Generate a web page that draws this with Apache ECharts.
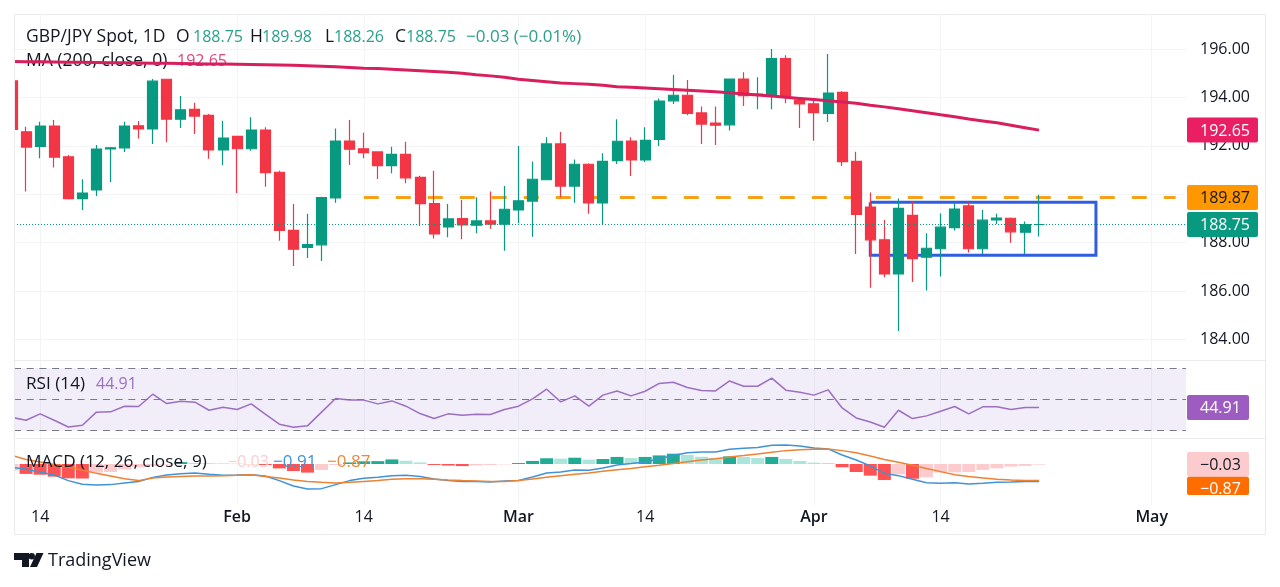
<!DOCTYPE html>
<html>
<head>
<meta charset="utf-8">
<title>GBP/JPY Spot, 1D</title>
<script src="https://cdn.jsdelivr.net/npm/echarts@6/dist/echarts.min.js"></script>
<style>
  html, body { margin: 0; padding: 0; background: #fff; }
  #chart { width: 1280px; height: 587px; }
</style>
</head>
<body>
<div id="chart"></div>
<script>
// daily candles
const opens = [194.68,192.58,191.98,192.82,191.55,189.82,190.18,191.87,191.91,192.83,192.70,194.75,193.10,193.51,193.26,191.83,192.39,191.88,192.65,190.91,188.51,187.81,187.91,189.85,192.20,191.88,191.75,191.18,191.65,190.70,189.61,188.65,188.99,188.72,188.90,188.77,189.35,189.72,190.60,192.08,190.34,191.24,189.64,191.39,192.20,191.42,192.27,193.86,194.09,193.36,192.94,192.87,194.76,194.09,194.06,195.60,193.89,193.73,193.34,194.21,191.36,189.47,188.12,186.71,189.13,187.40,187.75,188.62,189.52,187.75,188.94,189.01,188.43,188.75];
const closes = [192.68,191.95,192.82,191.53,189.82,190.05,191.87,191.92,192.82,192.70,194.67,193.10,193.49,193.23,191.83,192.32,191.88,192.65,190.89,188.51,187.73,187.92,189.86,192.20,191.86,191.72,191.18,191.65,190.68,189.61,188.36,188.98,188.73,188.90,188.77,189.38,189.73,190.62,192.08,190.34,191.24,189.64,191.36,192.19,191.42,192.23,193.85,194.09,193.34,192.90,192.85,194.76,194.07,194.14,195.60,194.03,193.73,193.37,194.18,191.35,189.17,188.12,186.71,189.42,187.34,187.77,188.64,189.39,187.75,188.93,189.02,188.45,188.75,188.75];
const lows = [192.60,190.11,191.49,191.11,189.78,189.35,189.93,190.51,191.75,192.30,192.08,192.15,192.74,192.49,191.47,191.20,190.05,191.80,190.31,188.08,187.04,187.37,187.24,189.65,191.21,191.49,190.63,190.87,190.45,188.69,188.17,188.22,188.14,188.39,188.58,187.67,188.80,188.25,190.58,189.88,189.65,189.19,188.77,191.25,190.75,191.33,191.99,193.73,193.26,192.08,192.04,192.63,193.65,193.51,193.51,193.76,192.74,192.21,192.99,191.17,187.53,186.14,186.57,184.35,186.38,186.02,186.60,188.50,187.59,187.53,188.77,188.00,187.53,188.26];
const highs = [194.70,192.79,193.00,193.07,191.62,190.62,192.04,191.95,193.00,193.03,194.76,194.76,194.06,193.78,193.32,193.04,192.42,193.18,192.77,190.97,189.60,189.19,189.90,192.72,193.07,192.54,191.78,191.96,192.17,190.76,190.97,189.60,189.76,189.88,190.11,190.34,191.99,191.35,192.35,192.57,191.44,191.28,191.69,193.10,192.35,192.77,193.96,194.94,194.72,193.62,193.62,194.78,195.04,194.83,196.00,195.74,193.93,193.95,195.79,194.25,191.76,190.07,188.94,189.83,189.69,188.39,189.21,189.63,189.67,189.35,189.19,189.04,188.87,189.98];
const ma200 = [195.48,195.47,195.47,195.46,195.45,195.45,195.44,195.43,195.43,195.42,195.41,195.41,195.40,195.39,195.38,195.38,195.37,195.36,195.35,195.34,195.33,195.31,195.29,195.27,195.24,195.21,195.19,195.16,195.13,195.10,195.07,195.04,195.00,194.94,194.89,194.83,194.75,194.70,194.65,194.60,194.57,194.54,194.50,194.44,194.42,194.39,194.36,194.33,194.30,194.27,194.23,194.19,194.14,194.10,194.06,194.01,193.96,193.91,193.86,193.81,193.76,193.68,193.61,193.53,193.45,193.37,193.28,193.20,193.11,193.03,192.95,192.85,192.75,192.65];
const rsi = [38.5,36.7,40.8,36.7,32.4,33.5,41.9,42.1,45.7,45.5,53.4,47.4,48.9,48.3,43.1,45.1,43.6,47.2,40.6,34.2,32.2,33.1,41.9,50.6,49.7,49.6,47.2,49.1,45.7,41.0,37.8,40.8,39.9,40.6,40.4,43.6,45.7,50.4,56.6,48.5,52.3,45.7,52.8,55.5,52.3,55.3,60.3,61.1,57.7,55.8,55.5,61.9,58.5,58.5,63.7,56.0,54.7,52.8,56.2,44.6,38.2,35.6,32.2,43.1,37.8,39.5,42.5,45.5,40.8,45.3,45.3,43.6,44.9,44.91];
const macdLine = [-0.17,-0.28,-0.42,-0.58,-0.87,-1.06,-1.10,-1.08,-0.99,-0.92,-0.70,-0.58,-0.51,-0.47,-0.54,-0.59,-0.58,-0.56,-0.63,-0.87,-1.15,-1.31,-1.29,-1.08,-0.87,-0.75,-0.70,-0.61,-0.59,-0.66,-0.79,-0.86,-0.91,-0.92,-0.94,-0.89,-0.86,-0.68,-0.47,-0.42,-0.31,-0.33,-0.21,-0.05,0.02,0.10,0.28,0.44,0.59,0.63,0.63,0.77,0.82,0.86,0.98,0.99,0.94,0.84,0.79,0.47,0.21,-0.10,-0.49,-0.61,-0.80,-0.98,-1.01,-0.98,-1.05,-1.01,-0.96,-0.94,-0.91,-0.91];
const signalLine = [0.45,0.24,0.10,-0.03,-0.17,-0.31,-0.49,-0.63,-0.77,-0.87,-0.73,-0.68,-0.65,-0.63,-0.63,-0.61,-0.59,-0.56,-0.66,-0.73,-0.84,-0.92,-0.96,-0.99,-0.96,-0.91,-0.86,-0.80,-0.77,-0.77,-0.80,-0.84,-0.87,-0.89,-0.91,-0.91,-0.86,-0.79,-0.70,-0.61,-0.54,-0.47,-0.38,-0.30,-0.23,-0.14,-0.07,0.02,0.12,0.21,0.28,0.37,0.44,0.52,0.61,0.70,0.75,0.77,0.79,0.70,0.59,0.42,0.24,0.09,-0.07,-0.24,-0.40,-0.56,-0.66,-0.73,-0.80,-0.84,-0.86,-0.87];
const histogram = [-0.35,-0.52,-0.56,-0.66,-0.75,-0.76,-0.45,-0.42,-0.28,-0.17,-0.10,-0.03,0.10,0.05,0.04,0.03,0.02,-0.01,-0.05,-0.23,-0.37,-0.45,-0.31,-0.05,0.08,0.14,0.15,0.24,0.17,0.08,-0.05,-0.08,-0.11,-0.08,-0.05,-0.02,0.05,0.16,0.30,0.28,0.33,0.23,0.26,0.37,0.31,0.37,0.45,0.54,0.47,0.38,0.31,0.40,0.37,0.31,0.37,0.26,0.16,0.07,0.05,-0.17,-0.42,-0.61,-0.84,-0.54,-0.77,-0.70,-0.45,-0.44,-0.42,-0.31,-0.23,-0.14,-0.10,-0.03];

const priceTicks = [184, 186, 188, 190, 192, 194, 196];
const timeTickBars = [2, 16, 25, 36, 45, 57, 66, 81];
const timeTickLabels = ["14", "Feb", "14", "Mar", "14", "Apr", "14", "May"];
const resistance = 189.87;
const lastPrice = 188.75;
const ma200Last = 192.65;
const rsiLast = 44.91;
const resistanceBars = [25, 82.7];
const boxBars = [61, 77.04];
const boxPrices = [189.67, 187.48];

const FONT = '"Open Sans", sans-serif';
const INK = "#131722";
const GRID_LINE = "#f3f4f6";
const FRAME = "#e9ebee";
const UP = "#089981";
const DOWN = "#f23645";

const bars = opens.map((_, i) => i);
const chart = echarts.init(document.getElementById("chart"));

// histogram shade follows the change from the bar before
function histColor(v, i) {
  const prev = i > 0 ? histogram[i - 1] : v - 1;
  if (v >= 0) return v > prev ? "#22ab94" : "#ace5dc";
  return v < prev ? "#ff5252" : "#fccbcd";
}

function timeAxis(gridIndex, showLabels) {
  return {
    type: "value",
    gridIndex,
    min: 0.142,
    max: 83.44,
    axisLine: { show: false },
    axisTick: { show: false, customValues: timeTickBars },
    splitLine: { show: true, lineStyle: { color: GRID_LINE, width: 1 } },
    axisLabel: {
      show: showLabels,
      customValues: timeTickBars,
      margin: 4,
      fontFamily: FONT,
      fontSize: 16,
      color: INK,
      formatter: (v) => {
        const label = timeTickLabels[timeTickBars.indexOf(v)];
        return /\d/.test(label) ? label : "{m|" + label + "}";
      },
      rich: { m: { fontFamily: FONT, fontSize: 16, fontWeight: 600, color: INK } },
    },
  };
}

function text(x, y, str, color, z, size) {
  return {
    type: "text",
    x,
    y: y + 1,
    z: z || 0,
    silent: true,
    style: {
      text: str,
      fill: color,
      font: (size || 16) + "px " + FONT,
      textVerticalAlign: "middle",
      textBaseline: "middle",
    },
  };
}

const TEAL_TXT = "#2a9f8b";
const legend = [
  text(26, 36, "GBP/JPY Spot, 1D", INK, 0, 17.5),
  text(176, 36, "O", INK, 0, 17.5), text(193, 36, "188.75", TEAL_TXT),
  text(250, 36, "H", INK, 0, 17.5), text(262, 36, "189.98", TEAL_TXT),
  text(325, 36, "L", INK, 0, 17.5), text(334, 36, "188.26", TEAL_TXT),
  text(395, 36, "C", INK, 0, 17.5), text(406, 36, "188.75", TEAL_TXT),
  text(466, 36, "\u22120.03 (\u22120.01%)", TEAL_TXT, 0, 17),
  text(26, 60, "MA (200, close, 0)", INK, 0, 17.5),
  text(177, 60, "192.65", "#e0457b"),
  text(26, 383, "RSI (14)", INK, 10, 17.2),
  text(96, 383, "44.91", "#9c6fc0", 10),
  text(26, 461, "MACD (12, 26, close, 9)", INK, 10, 17.2),
  text(228, 461, "\u22120.03", "#f9cfd1", 10),
  text(273, 461, "\u22120.91", "#3f93d6", 10, 17),
  text(327, 461, "\u22120.87", "#e98a3c", 10, 17),
];

// white strip hides what runs left of the plot, frame goes above it
const frame = [
  { type: "rect", z: 5, silent: true, shape: { x: 0, y: 0, width: 14, height: 587 }, style: { fill: "#fff" } },
  { type: "rect", z: 6, silent: true, shape: { x: 14.5, y: 14.5, width: 1251, height: 520 },
    style: { fill: "none", stroke: FRAME, lineWidth: 1 } },
  { type: "line", z: 6, silent: true, shape: { x1: 14, y1: 360.5, x2: 1265, y2: 360.5 },
    style: { stroke: FRAME, lineWidth: 1 } },
  { type: "line", z: 6, silent: true, shape: { x1: 14, y1: 438.5, x2: 1265, y2: 438.5 },
    style: { stroke: FRAME, lineWidth: 1 } },
];

// tradingview mark + wordmark
const logo = [
  { type: "polygon", silent: true,
    shape: { points: [[14, 553], [29, 553], [29, 567], [22, 567], [22, 560], [14, 560]] },
    style: { fill: INK } },
  { type: "circle", silent: true, shape: { cx: 31.7, cy: 556.3, r: 3.2 }, style: { fill: INK } },
  { type: "polygon", silent: true,
    shape: { points: [[36.5, 553], [43.5, 553], [37, 567], [30, 567]] },
    style: { fill: INK } },
  text(48, 560, "TradingView", INK, 0, 18),
];

chart.setOption({
  animation: false,
  backgroundColor: "#fff",
  textStyle: { fontFamily: FONT },
  grid: [
    { left: 14, right: 94, top: 14, height: 346 },
    { left: 14, right: 94, top: 361, height: 77.5 },
    { left: 14, right: 94, top: 439, height: 66 },
  ],
  xAxis: [timeAxis(0, false), timeAxis(1, false), timeAxis(2, true)],
  yAxis: [
    {
      gridIndex: 0,
      position: "right",
      min: 183.154,
      max: 197.446,
      axisLine: { show: false },
      axisTick: { show: false, customValues: priceTicks },
      splitLine: { show: true, lineStyle: { color: GRID_LINE, width: 1 } },
      axisLabel: {
        customValues: priceTicks,
        margin: 14,
        padding: [4, 0, 0, 0],
        fontFamily: FONT,
        fontSize: 16,
        color: INK,
        formatter: (v) => v.toFixed(2),
      },
    },
    {
      gridIndex: 1,
      position: "right",
      min: 25,
      max: 74.68,
      axisLine: { show: false },
      axisTick: { show: false },
      splitLine: { show: false },
      axisLabel: {
        customValues: [40],
        margin: 14,
        fontFamily: FONT,
        fontSize: 16,
        color: INK,
        formatter: (v) => v.toFixed(2),
      },
    },
    {
      gridIndex: 2,
      position: "right",
      min: -2.147,
      max: 1.309,
      axisLine: { show: false },
      axisTick: { show: false },
      axisLabel: { show: false },
      splitLine: { show: false },
    },
  ],
  series: [
    {
      name: "Range",
      type: "line",
      xAxisIndex: 0,
      yAxisIndex: 0,
      z: 1,
      symbol: "none",
      lineStyle: { color: "#2f5fe0", width: 3, join: "miter" },
      data: [
        [boxBars[0], boxPrices[0]],
        [boxBars[1], boxPrices[0]],
        [boxBars[1], boxPrices[1]],
        [boxBars[0], boxPrices[1]],
        [boxBars[0], boxPrices[0]],
      ],
    },
    {
      name: "Resistance",
      type: "line",
      xAxisIndex: 0,
      yAxisIndex: 0,
      z: 1,
      symbol: "none",
      lineStyle: { color: "#f5a11c", width: 3, type: [15, 17] },
      data: resistanceBars.map((b) => [b, resistance]),
    },
    {
      name: "GBP/JPY",
      type: "candlestick",
      xAxisIndex: 0,
      yAxisIndex: 0,
      z: 3,
      barWidth: 10.5,
      encode: { x: 0, y: [1, 2, 3, 4] },
      itemStyle: {
        color: UP,
        color0: DOWN,
        borderColor: UP,
        borderColor0: DOWN,
        borderColorDoji: UP,
        borderWidth: 1.2,
      },
      data: bars.map((i) => [i, opens[i], closes[i], lows[i], highs[i]]),
      markLine: {
        silent: true,
        symbol: "none",
        label: { show: false },
        lineStyle: { color: UP, width: 1, type: [1, 2] },
        data: [{ yAxis: lastPrice }],
      },
    },
    {
      name: "MA 200",
      type: "line",
      xAxisIndex: 0,
      yAxisIndex: 0,
      z: 4,
      symbol: "none",
      lineStyle: { color: "#d81e5b", width: 3 },
      data: bars.map((i) => [i, ma200[i]]),
    },
    {
      name: "RSI",
      type: "line",
      xAxisIndex: 1,
      yAxisIndex: 1,
      z: 3,
      symbol: "none",
      lineStyle: { color: "#9c6fc0", width: 1.5 },
      data: bars.map((i) => [i, rsi[i]]),
      markArea: {
        silent: true,
        itemStyle: { color: "rgba(126,87,194,0.1)" },
        data: [[{ yAxis: 70 }, { yAxis: 30 }]],
      },
      markLine: {
        silent: true,
        symbol: "none",
        label: { show: false },
        lineStyle: { color: "#787b86", width: 1, type: [7, 5.7] },
        data: [{ yAxis: 70 }, { yAxis: 50 }, { yAxis: 30 }],
      },
    },
    {
      name: "Histogram",
      type: "bar",
      xAxisIndex: 2,
      yAxisIndex: 2,
      z: 2,
      barWidth: 13,
      data: bars.map((i) => ({
        value: [i, histogram[i]],
        itemStyle: { color: histColor(histogram[i], i) },
      })),
    },
    {
      name: "MACD",
      type: "line",
      xAxisIndex: 2,
      yAxisIndex: 2,
      z: 4,
      symbol: "none",
      lineStyle: { color: "#3f93d6", width: 1.5 },
      data: bars.map((i) => [i, macdLine[i]]),
    },
    {
      name: "Signal",
      type: "line",
      xAxisIndex: 2,
      yAxisIndex: 2,
      z: 4,
      symbol: "none",
      lineStyle: { color: "#ec8233", width: 1.5 },
      data: bars.map((i) => [i, signalLine[i]]),
    },
  ],
});

// value tags on the scale, placed from the axes
function tagBox(top, height, bg, width) {
  return { type: "rect", z: 20, silent: true, shape: { x: 1187, y: top, width, height, r: 2 }, style: { fill: bg } };
}

function priceTag(yAxisIndex, value, bg, fg, width) {
  const y = chart.convertToPixel({ yAxisIndex }, value);
  return [tagBox(y - 12.5, 25, bg, width), text(1200, y, value.toFixed(2), fg, 21)];
}

chart.setOption({
  graphic: {
    elements: frame.concat(
      legend,
      logo,
      priceTag(0, ma200Last, "#e91e63", "#fff", 71),
      priceTag(0, resistance, "#ff9800", INK, 71),
      priceTag(0, lastPrice, "#089981", "#fff", 71),
      priceTag(1, rsiLast, "#9c5cc0", "#fff", 62),
      [
        tagBox(452, 24.7, "#fccbcd", 62),
        text(1200, 464, "\u22120.03", INK, 21),
        tagBox(476.7, 18.3, "#ff6d00", 62),
        text(1200, 488, "\u22120.87", "#fff", 21),
      ]
    ),
  },
});
</script>
</body>
</html>
